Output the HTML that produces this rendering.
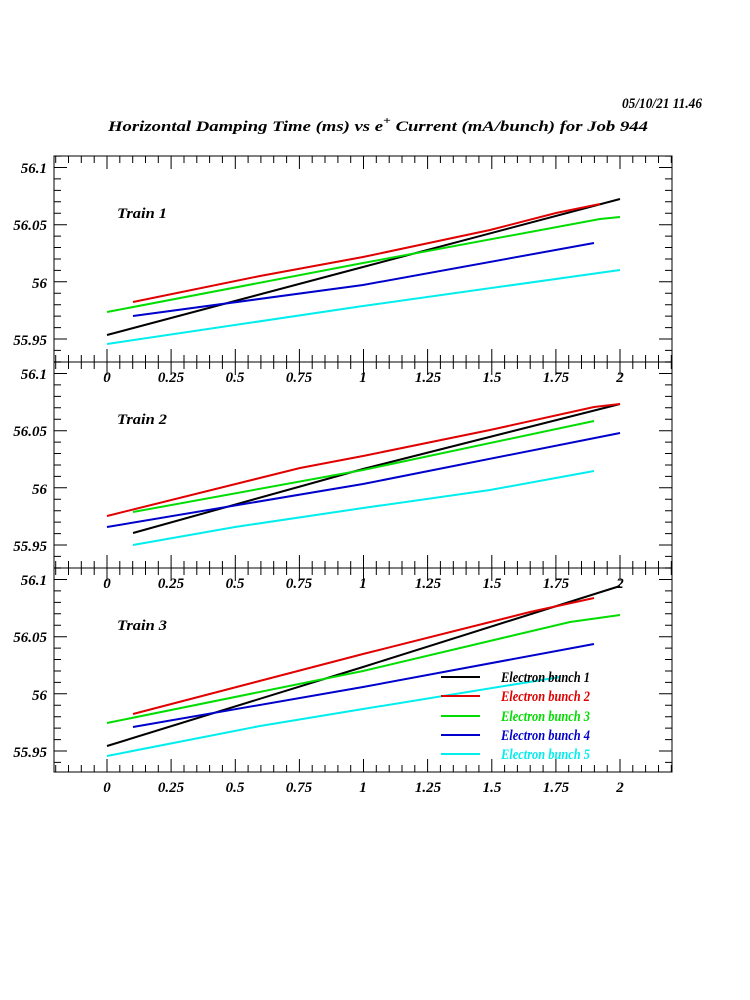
<!DOCTYPE html>
<html><head><meta charset="utf-8"><style>
body{margin:0;background:#fff;width:750px;height:1000px;overflow:hidden}
svg{display:block}
text{font-family:"Liberation Serif",serif;font-style:italic;font-weight:bold;font-size:15px}
</style></head><body>
<svg id="s" width="750" height="1000" xmlns="http://www.w3.org/2000/svg">
<text x="622" y="108" font-size="14" textLength="80" lengthAdjust="spacingAndGlyphs">05/10/21   11.46</text>
<text x="108" y="131" font-size="16" textLength="540" lengthAdjust="spacingAndGlyphs">Horizontal Damping Time (ms) vs e<tspan dy="-7" font-size="11">+</tspan><tspan dy="7"> Current (mA/bunch) for Job 944</tspan></text>
<g id="frames" fill="none" stroke="#000" stroke-width="1"></g>
<g text-anchor="end">
<text x="47" y="173">56.1</text><text x="47" y="230">56.05</text><text x="47" y="288">56</text><text x="47" y="345">55.95</text>
<text x="47" y="379">56.1</text><text x="47" y="436">56.05</text><text x="47" y="494">56</text><text x="47" y="551">55.95</text>
<text x="47" y="585">56.1</text><text x="47" y="642">56.05</text><text x="47" y="700">56</text><text x="47" y="757">55.95</text>
</g>
<g text-anchor="middle">
<text x="107" y="382">0</text><text x="171" y="382">0.25</text><text x="235" y="382">0.5</text><text x="299" y="382">0.75</text><text x="363" y="382">1</text><text x="428" y="382">1.25</text><text x="492" y="382">1.5</text><text x="556" y="382">1.75</text><text x="620" y="382">2</text>
<text x="107" y="588">0</text><text x="171" y="588">0.25</text><text x="235" y="588">0.5</text><text x="299" y="588">0.75</text><text x="363" y="588">1</text><text x="428" y="588">1.25</text><text x="492" y="588">1.5</text><text x="556" y="588">1.75</text><text x="620" y="588">2</text>
<text x="107" y="792">0</text><text x="171" y="792">0.25</text><text x="235" y="792">0.5</text><text x="299" y="792">0.75</text><text x="363" y="792">1</text><text x="428" y="792">1.25</text><text x="492" y="792">1.5</text><text x="556" y="792">1.75</text><text x="620" y="792">2</text>
</g>
<text x="117" y="218" textLength="50" lengthAdjust="spacingAndGlyphs">Train 1</text>
<text x="117" y="424" textLength="50" lengthAdjust="spacingAndGlyphs">Train 2</text>
<text x="117" y="630" textLength="50" lengthAdjust="spacingAndGlyphs">Train 3</text>
<g fill="none" stroke-width="2">
<polyline stroke="#000" points="107,335 363,267 620,199"/>
<polyline stroke="#e00000" points="133,302 260,276 363,257 490,230 556,213 600,204"/>
<polyline stroke="#00dd00" points="107,312 363,263 600,219 620,217"/>
<polyline stroke="#0000cc" points="133,316 363,285 594,243"/>
<polyline stroke="#00eeee" points="107,344 363,306 620,270"/>

<polyline stroke="#000" points="133,533 363,469 620,404"/>
<polyline stroke="#e00000" points="107,516 300,468 363,456 490,430 594,407 620,404"/>
<polyline stroke="#00dd00" points="133,512 363,470 594,421"/>
<polyline stroke="#0000cc" points="107,527 363,484 620,433"/>
<polyline stroke="#00eeee" points="133,545 235,527 363,508 490,490 594,471"/>

<polyline stroke="#000" points="107,746 363,667 620,586"/>
<polyline stroke="#e00000" points="133,714 363,654 530,612 594,598"/>
<polyline stroke="#00dd00" points="107,723 363,671 570,622 620,615"/>
<polyline stroke="#0000cc" points="133,727 363,687 594,644"/>
<polyline stroke="#00eeee" points="107,756 260,726 363,709 560,677"/>
</g>
<g stroke-width="2">
<line x1="441" y1="677" x2="480" y2="677" stroke="#000"/>
<line x1="441" y1="696" x2="480" y2="696" stroke="#e00000"/>
<line x1="441" y1="716" x2="480" y2="716" stroke="#00dd00"/>
<line x1="441" y1="735" x2="480" y2="735" stroke="#0000cc"/>
<line x1="441" y1="754" x2="480" y2="754" stroke="#00eeee"/>
</g>
<g textLength="89" lengthAdjust="spacingAndGlyphs">
<text x="501" y="682" fill="#000" textLength="89" lengthAdjust="spacingAndGlyphs">Electron bunch 1</text>
<text x="501" y="701" fill="#e00000" textLength="89" lengthAdjust="spacingAndGlyphs">Electron bunch 2</text>
<text x="501" y="721" fill="#00dd00" textLength="89" lengthAdjust="spacingAndGlyphs">Electron bunch 3</text>
<text x="501" y="740" fill="#0000cc" textLength="89" lengthAdjust="spacingAndGlyphs">Electron bunch 4</text>
<text x="501" y="759" fill="#00eeee" textLength="89" lengthAdjust="spacingAndGlyphs">Electron bunch 5</text>
</g>
</svg>
<script>
(function(){
var g=document.getElementById('frames'),d='';
var L=54,R=672,tops=[156,362,568],B=772;
var x0=107,sx=256.5;
for(var p=0;p<3;p++){
 var t=tops[p],b=(p<2?tops[p+1]:B);
 d+='M'+L+' '+t+'H'+R+'V'+b+'H'+L+'Z';
 for(var i=-4;i<=44;i++){var v=i*0.05,x=x0+v*sx;if(x<L||x>R)continue;
  var len=(i%5==0)?13:7; d+='M'+x.toFixed(1)+' '+t+'v'+len+'M'+x.toFixed(1)+' '+b+'v-'+len;}
 var y0=t+11.5,sy=171.5/0.15;
 for(var j=-2;j<=20;j++){var val=j*0.01,y=y0+val*sy;if(y<t||y>b)continue;
  var ln=(j%5==0)?13:7; d+='M'+L+' '+y.toFixed(1)+'h'+ln+'M'+R+' '+y.toFixed(1)+'h-'+ln;}
}
var pa=document.createElementNS('http://www.w3.org/2000/svg','path');pa.setAttribute('d',d);g.appendChild(pa);
})();
</script>
</body></html>
